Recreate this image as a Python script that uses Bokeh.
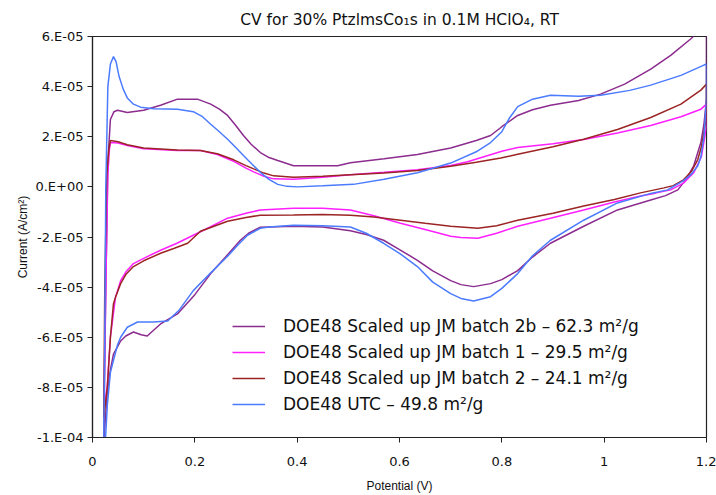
from bokeh.plotting import figure
from bokeh.models import Range1d, FixedTicker
from bokeh.embed import file_html
from bokeh.resources import INLINE

# Cyclic voltammograms: potential (V) and current (units of 1E-05 A/cm2),
# anodic sweep followed by cathodic sweep for each sample.
batch2b_v = [0.022, 0.026, 0.03, 0.035, 0.042, 0.049, 0.068, 0.1, 0.133, 0.166, 0.205, 0.231, 0.248, 0.264,
             0.28, 0.295, 0.31, 0.328, 0.345, 0.362, 0.393, 0.44, 0.479, 0.504, 0.57, 0.635, 0.70, 0.75, 0.778,
             0.80, 0.831, 0.86, 0.895, 0.95, 0.993, 1.04, 1.091, 1.13, 1.169, 1.2,
             1.2, 1.195, 1.189, 1.175, 1.16, 1.144, 1.12, 1.091, 1.026, 0.96, 0.895, 0.86, 0.831, 0.80, 0.778,
             0.745, 0.72, 0.70, 0.665, 0.635, 0.60, 0.569, 0.535, 0.504, 0.45, 0.393, 0.328, 0.305, 0.289,
             0.26, 0.231, 0.2, 0.166, 0.133, 0.115, 0.107, 0.095, 0.08, 0.065, 0.055, 0.041, 0.035, 0.029, 0.022]
batch2b_i = [-10.2, -4.0, 1.0, 2.69, 3.0, 3.06, 2.97, 3.06, 3.26, 3.5, 3.5, 3.3, 3.1, 2.85,
             2.45, 2.05, 1.7, 1.37, 1.17, 1.05, 0.84, 0.84, 0.84, 0.96, 1.12, 1.29, 1.55, 1.85, 2.05,
             2.4, 2.85, 3.08, 3.26, 3.45, 3.70, 4.1, 4.7, 5.25, 5.9, 6.5,
             3.5, 2.5, 1.77, 0.84, 0.3, -0.12, -0.35, -0.52, -0.92, -1.57, -2.25, -2.8, -3.34, -3.7, -3.86,
             -3.98, -3.9, -3.74, -3.35, -2.93, -2.5, -2.13, -1.9, -1.75, -1.6, -1.57, -1.61, -1.85, -2.13,
             -2.8, -3.46, -4.3, -5.07, -5.47, -5.8, -5.95, -5.9, -5.79, -5.95, -6.15, -6.67, -7.3, -8.16, -10.2]

batch1_v = [0.022, 0.026, 0.03, 0.033, 0.035, 0.05, 0.068, 0.1, 0.166, 0.211, 0.244, 0.276, 0.30, 0.315,
            0.335, 0.354, 0.393, 0.45, 0.504, 0.57, 0.635, 0.70, 0.733, 0.765, 0.80, 0.831, 0.90, 0.96,
            1.026, 1.091, 1.15, 1.189, 1.2,
            1.2, 1.19, 1.175, 1.155, 1.13, 1.10, 1.071, 1.02, 0.96, 0.895, 0.831, 0.79, 0.753, 0.72, 0.70,
            0.65, 0.602, 0.55, 0.504, 0.45, 0.393, 0.328, 0.30, 0.264, 0.23, 0.197, 0.165, 0.133, 0.10,
            0.08, 0.065, 0.055, 0.045, 0.04, 0.035, 0.029, 0.022]
batch1_i = [-9.0, -4.0, 0.5, 1.5, 1.77, 1.75, 1.65, 1.52, 1.45, 1.45, 1.29, 1.02, 0.75, 0.6,
            0.42, 0.32, 0.3, 0.38, 0.48, 0.58, 0.68, 0.85, 1.0, 1.2, 1.42, 1.57, 1.72, 1.89,
            2.15, 2.45, 2.8, 3.10, 3.3,
            2.4, 1.2, 0.56, 0.15, -0.12, -0.25, -0.36, -0.6, -0.92, -1.25, -1.57, -1.85, -2.05, -2.02, -1.97,
            -1.7, -1.45, -1.15, -0.92, -0.85, -0.85, -0.92, -1.05, -1.25, -1.6, -1.93, -2.25, -2.53, -2.85,
            -3.06, -3.4, -3.74, -4.4, -5.2, -6.0, -7.9, -9.0]

batch2_v = [0.022, 0.024, 0.028, 0.032, 0.035, 0.05, 0.068, 0.1, 0.166, 0.211, 0.244, 0.276, 0.30, 0.315,
            0.335, 0.354, 0.393, 0.45, 0.504, 0.57, 0.635, 0.70, 0.75, 0.798, 0.831, 0.90, 0.96, 1.026,
            1.091, 1.15, 1.189, 1.2,
            1.2, 1.19, 1.183, 1.17, 1.155, 1.135, 1.117, 1.071, 1.02, 0.96, 0.90, 0.831, 0.79, 0.753, 0.70,
            0.65, 0.602, 0.55, 0.504, 0.45, 0.393, 0.328, 0.30, 0.264, 0.211, 0.186, 0.16, 0.133, 0.10,
            0.08, 0.065, 0.055, 0.045, 0.041, 0.035, 0.029, 0.022]
batch2_i = [-9.2, -4.0, 0.5, 1.5, 1.85, 1.8, 1.68, 1.55, 1.47, 1.45, 1.32, 1.08, 0.85, 0.72,
            0.55, 0.44, 0.38, 0.42, 0.48, 0.55, 0.65, 0.82, 0.98, 1.15, 1.3, 1.6, 1.9, 2.29,
            2.77, 3.3, 3.86, 4.1,
            2.8, 1.6, 1.09, 0.6, 0.28, 0.05, -0.04, -0.24, -0.5, -0.76, -1.05, -1.33, -1.55, -1.65, -1.57,
            -1.45, -1.33, -1.2, -1.13, -1.1, -1.12, -1.13, -1.22, -1.37, -1.77, -2.25, -2.45, -2.65, -2.95,
            -3.18, -3.5, -3.86, -4.4, -4.66, -5.99, -8.0, -9.2]

utc_v = [0.022, 0.024, 0.026, 0.03, 0.035, 0.041, 0.046, 0.052, 0.06, 0.068, 0.08, 0.094, 0.12, 0.166,
         0.197, 0.215, 0.231, 0.248, 0.264, 0.28, 0.295, 0.312, 0.328, 0.345, 0.362, 0.38, 0.40, 0.45,
         0.51, 0.57, 0.635, 0.70, 0.75, 0.778, 0.80, 0.815, 0.831, 0.86, 0.895, 0.95, 0.993, 1.05, 1.091,
         1.15, 1.195, 1.2,
         1.2, 1.195, 1.189, 1.183, 1.17, 1.155, 1.124, 1.091, 1.026, 0.96, 0.895, 0.86, 0.831, 0.80,
         0.778, 0.745, 0.72, 0.70, 0.665, 0.635, 0.60, 0.569, 0.535, 0.504, 0.45, 0.393, 0.345, 0.328,
         0.303, 0.285, 0.264, 0.23, 0.197, 0.17, 0.147, 0.119, 0.088, 0.068, 0.055, 0.049, 0.04, 0.035,
         0.029, 0.025]
utc_i = [-10.2, -6.0, 0.0, 4.0, 4.9, 5.2, 5.0, 4.4, 3.9, 3.55, 3.3, 3.18, 3.12, 3.1,
         3.0, 2.8, 2.5, 2.2, 1.9, 1.57, 1.25, 0.9, 0.58, 0.3, 0.1, 0.02, 0.0, 0.04,
         0.1, 0.3, 0.56, 0.95, 1.4, 1.77, 2.2, 2.75, 3.2, 3.5, 3.66, 3.62, 3.66, 3.85, 4.06,
         4.45, 4.86, 4.9,
         3.5, 2.0, 1.2, 0.84, 0.5, 0.25, -0.12, -0.26, -0.64, -1.33, -2.13, -2.75, -3.46, -4.05,
         -4.38, -4.55, -4.45, -4.26, -3.8, -3.18, -2.65, -2.25, -1.85, -1.6, -1.55, -1.53, -1.6, -1.65,
         -1.93, -2.3, -2.77, -3.45, -4.14, -4.9, -5.35, -5.39, -5.39, -5.6, -6.0, -6.3, -7.0, -7.4,
         -8.7, -10.2]

series_names = [
    "DOE48 Scaled up JM batch 2b \u2013 62.3 m\u00b2/g",
    "DOE48 Scaled up JM batch 1 \u2013 29.5 m\u00b2/g",
    "DOE48 Scaled up JM batch 2 \u2013 24.1 m\u00b2/g",
    "DOE48 UTC \u2013 49.8 m\u00b2/g",
]
series_colors = ["#8B2C8E", "#FF1FFF", "#9B2424", "#4B7BFF"]

y_ticks = [-10e-5, -8e-5, -6e-5, -4e-5, -2e-5, 0.0, 2e-5, 4e-5, 6e-5]
y_tick_labels = ["-1.E-04", "-8.E-05", "-6.E-05", "-4.E-05", "-2.E-05", "0.E+00", "2.E-05", "4.E-05", "6.E-05"]
x_ticks = [0, 0.2, 0.4, 0.6, 0.8, 1.0, 1.2]
x_tick_labels = ["0", "0.2", "0.4", "0.6", "0.8", "1", "1.2"]

FONT = "DejaVu Sans"
LABEL_FONT = "Liberation Sans"

p = figure(width=716, height=495, output_backend="svg", toolbar_location=None,
           x_range=Range1d(0, 1.2), y_range=Range1d(-1.0e-4, 6.0e-5),
           title="CV for 30% PtzlmsCo\u2081s in 0.1M HClO\u2084, RT",
           min_border_left=92, min_border_right=10, min_border_top=35, min_border_bottom=10)

p.title.align = "center"
p.title.text_font = FONT
p.title.text_font_size = "15.5px"
p.title.text_font_style = "normal"
p.title.text_color = "#111111"
p.title.standoff = 16

series = [(batch2b_v, batch2b_i), (batch1_v, batch1_i), (batch2_v, batch2_i), (utc_v, utc_i)]
for (vs, cs), name, color in zip(series, series_names, series_colors):
    p.line([v for v in vs], [c * 1e-5 for c in cs], line_color=color, line_width=1.5,
           legend_label=name)

p.xgrid.visible = False
p.ygrid.visible = False
p.outline_line_color = "#222222"
p.outline_line_width = 1.2

p.xaxis.ticker = FixedTicker(ticks=x_ticks)
p.xaxis.major_label_overrides = {t: l for t, l in zip(x_ticks, x_tick_labels)}
p.yaxis.ticker = FixedTicker(ticks=y_ticks)
p.yaxis.major_label_overrides = {t: l for t, l in zip(y_ticks, y_tick_labels)}

for ax in (p.xaxis[0], p.yaxis[0]):
    ax.axis_line_color = "#222222"
    ax.axis_line_width = 1.2
    ax.major_tick_line_color = "#222222"
    ax.major_tick_out = 5
    ax.major_tick_in = 0
    ax.minor_tick_out = 0
    ax.minor_tick_in = 0
    ax.major_label_text_font = FONT
    ax.major_label_text_font_size = "13px"
    ax.major_label_text_color = "#111111"
    ax.axis_label_text_font = LABEL_FONT
    ax.axis_label_text_font_size = "12px"
    ax.axis_label_text_font_style = "normal"
    ax.axis_label_text_color = "#111111"

p.xaxis.axis_label = "Potential (V)"
p.xaxis.major_label_standoff = 14
p.xaxis.axis_label_standoff = 10
p.yaxis.axis_label = "Current (A/cm\u00b2)"
p.yaxis.major_label_standoff = 4
p.yaxis.axis_label_standoff = 2

leg = p.legend[0]
leg.location = (140, 23)
leg.margin = 0
leg.padding = 0
leg.spacing = 6
leg.glyph_width = 33
leg.glyph_height = 20
leg.label_height = 20
leg.label_standoff = 18
leg.label_text_font = FONT
leg.label_text_font_size = "17px"
leg.label_text_color = "#111111"
leg.border_line_color = None
leg.background_fill_color = "white"
leg.background_fill_alpha = 1.0

open("out.html", "w").write(file_html(p, INLINE))
